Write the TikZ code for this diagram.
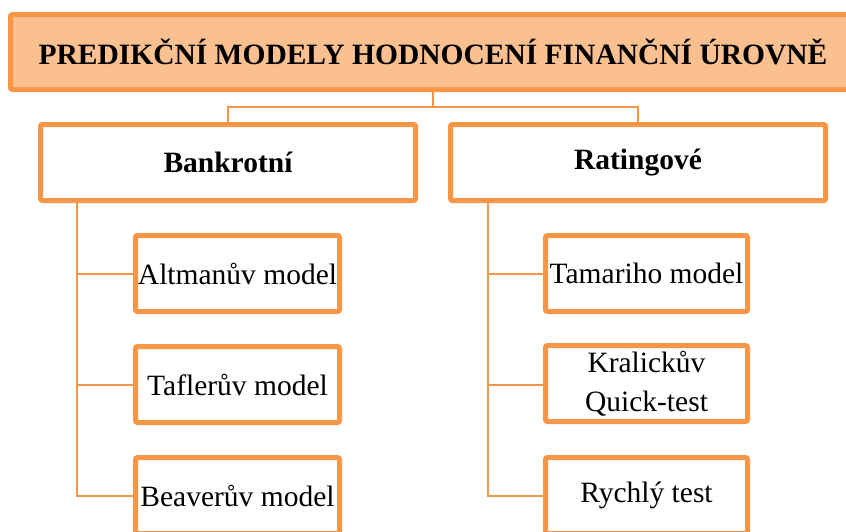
\documentclass[tikz,border=0pt]{standalone}
\usepackage{fontspec}
\setmainfont{Liberation Serif}
\definecolor{orbord}{HTML}{F79646}
\definecolor{orfill}{HTML}{FAC090}
\begin{document}
\begin{tikzpicture}[x=1pt,y=-1pt,
  box/.style={draw=orbord, line width=5pt, rounded corners=2pt, fill=white,
    inner sep=0pt, align=center, font=\fontsize{29.5}{39}\selectfont},
  topbox/.style={box, fill=orfill, minimum width=845pt, minimum height=75pt,
    font=\fontsize{29.5}{39}\selectfont\bfseries},
  catbox/.style={box, minimum width=375pt, minimum height=76pt,
    font=\fontsize{29.5}{39}\selectfont\bfseries},
  leafL/.style={box, minimum width=204pt, minimum height=76pt},
  leafR/.style={box, minimum width=202pt, minimum height=76pt},
  conn/.style={draw=orbord, line width=2pt}]
\useasboundingbox (0,0) rectangle (846,531);
\clip (0,0) rectangle (846,531);
\node[topbox] (top) at (433,52) {PREDIKČNÍ MODELY HODNOCENÍ FINANČNÍ ÚROVNĚ};
\node[catbox] (bank) at (228,162.5) {Bankrotní};
\node[catbox] (rat) at (638,162.5) {Ratingové};
\node[leafL] (alt) at (237.5,273.5) {Altmanův model};
\node[leafL] (taf) at (237.5,384.5) {Taflerův model};
\node[leafL] (bea) at (237.5,495.5) {Beaverův model};
\node[leafR] (tam) at (646.5,273.5) {Tamariho model};
\node[leafR] (kra) at (646.5,383.5) {Kralickův\\Quick-test};
\node[leafR] (ryc) at (646.5,495.5) {Rychlý test};
\coordinate (mid) at (433,107);
\coordinate (lt) at (77,0);
\coordinate (rt) at (488,0);
\draw[conn] (top.south) -- (mid);
\draw[conn] (bank.north) |- (mid) -| (rat.north);
\draw[conn] (lt |- bank.south) |- (bea.west);
\draw[conn] (lt |- alt.west) -- (alt.west);
\draw[conn] (lt |- taf.west) -- (taf.west);
\draw[conn] (rt |- rat.south) |- (ryc.west);
\draw[conn] (rt |- tam.west) -- (tam.west);
\draw[conn] (rt |- 0,384.5) -- (kra.west |- 0,384.5);
\end{tikzpicture}
\end{document}
